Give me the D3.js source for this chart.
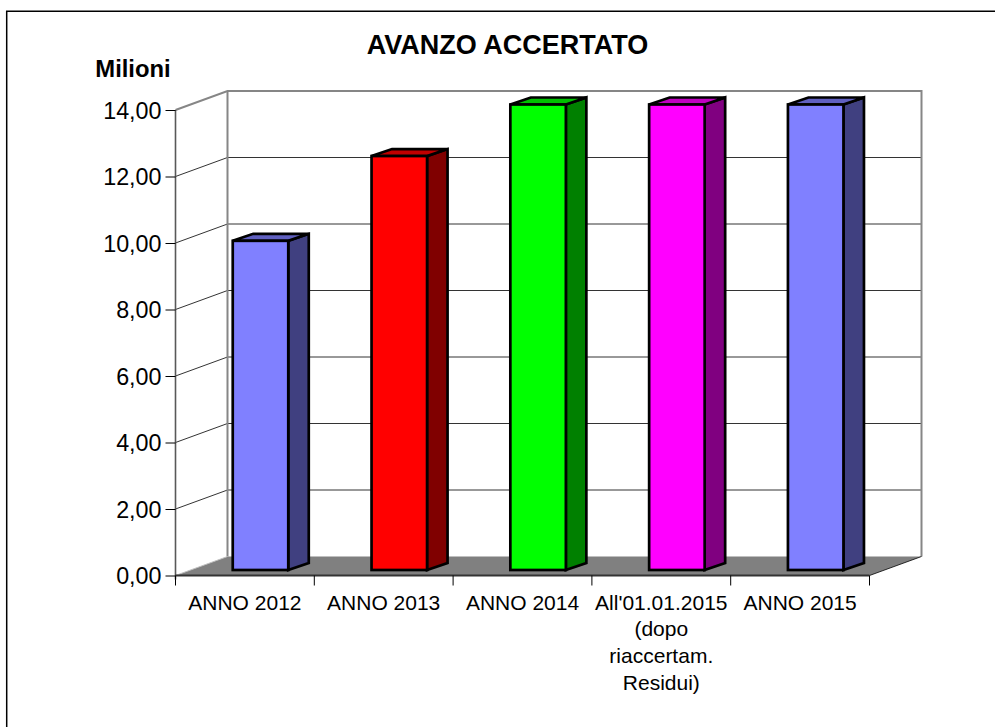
<!DOCTYPE html>
<html><head><meta charset="utf-8">
<script src="https://cdn.jsdelivr.net/npm/d3@7"></script>
<style>html,body{margin:0;padding:0;background:#fff}svg{display:block}text{font-family:"Liberation Sans",Arial,sans-serif;fill:#000}</style>
</head><body><div id="c"></div>
<script>
const categories = ["ANNO 2012","ANNO 2013","ANNO 2014","All'01.01.2015|(dopo|riaccertam.|Residui)","ANNO 2015"];
const values = [9.9,12.45,14,14,14];
const frontColors = ["#8080ff","#ff0000","#00ff00","#ff00ff","#8080ff"];
const sideColors = ["#404080","#800000","#008000","#800080","#404080"];
const topColors = ["#6060c0","#c00000","#00c000","#c000c0","#6060c0"];
const yTicks = [0,2,4,6,8,10,12,14];
const titleText = "AVANZO ACCERTATO";
const unitText = "Milioni";

const W=995,H=727;
const svg=d3.select("#c").append("svg").attr("width",W).attr("height",H);
svg.append("path").attr("d","M6.7,727V11.3H995").attr("fill","none").attr("stroke","#000").attr("stroke-width",1.5);

const x=d3.scaleBand().domain(categories).range([175.5,869.5]);
const y=d3.scaleLinear().domain([0,14]).range([575.5,110]);
const dx=52, dy=-19;           // wall depth
const bx=20.5, by=-7;          // bar depth
const ox=15.6, oy=-5.5;        // bar offset from front edge
const barW=x.bandwidth()*0.4;
const fmt=v=>d3.format(".2f")(v).replace(".",",");
const P=a=>a.map(p=>p.join(",")).join(" ");
const g=svg.append("g");
const [x0,x1]=x.range(), y0=y(0);

// floor
g.append("polygon").attr("points",P([[x0,y0],[x0+dx,y0+dy],[x1+dx,y0+dy],[x1,y0]])).attr("fill","#808080");

// gridlines (excluding top and bottom)
g.selectAll(".gl").data(yTicks.filter(t=>t>0&&t<14)).join("path").attr("class","gl")
 .attr("d",t=>`M${x0},${y(t)}L${x0+dx},${y(t)+dy}H${x1+dx}`).attr("fill","none").attr("stroke","#333").attr("stroke-width",1);

// walls
g.append("path").attr("d",`M${x0},${y(14)}L${x0+dx},${y(14)+dy}H${x1+dx}V${y0+dy}`).attr("fill","none").attr("stroke","#868686").attr("stroke-width",2);
g.append("path").attr("d",`M${x0+dx},${y(14)+dy}V${y0+dy}`).attr("fill","none").attr("stroke","#868686").attr("stroke-width",2);
g.append("path").attr("d",`M${x0},${y0}L${x0+dx},${y0+dy}`).attr("stroke","#c0c0c0").attr("stroke-width",1);
g.append("path").attr("d",`M${x1},${y0}L${x1+dx},${y0+dy}`).attr("stroke","#000").attr("stroke-width",.8);

// bars
const bars=g.selectAll(".bar").data(categories.map((c,i)=>({c,v:values[i],i}))).join("g").attr("class","bar")
 .attr("stroke","#000").attr("stroke-width",2.7).attr("stroke-linejoin","miter");
const L=d=>x(d.c)+(x.bandwidth()-barW)/2+ox, B=()=>y0+oy, T=d=>y(d.v)+oy;
bars.append("polygon").attr("points",d=>P([[L(d)+barW,B()],[L(d)+barW+bx,B()+by],[L(d)+barW+bx,T(d)+by],[L(d)+barW,T(d)]])).attr("fill",d=>sideColors[d.i]);
bars.append("polygon").attr("points",d=>P([[L(d),T(d)],[L(d)+bx,T(d)+by],[L(d)+barW+bx,T(d)+by],[L(d)+barW,T(d)]])).attr("fill",d=>topColors[d.i]);
bars.append("rect").attr("x",L).attr("y",T).attr("width",barW).attr("height",d=>B()-T(d)).attr("fill",d=>frontColors[d.i]);

// y axis
const yAxis=d3.axisLeft(y).tickValues(yTicks).tickFormat(fmt).tickSize(10).tickPadding(4);
const ya=svg.append("g").attr("transform",`translate(${x0},0)`).call(yAxis);
ya.select(".domain").attr("stroke","#595959").attr("stroke-width",1.6).attr("d",`M0,${y(14)}V${y0+4}`);
ya.selectAll(".tick line").attr("stroke","#000");
ya.selectAll("text").attr("font-size",23.3).attr("font-family",'"Liberation Sans",Arial,sans-serif').attr("dy","0.36em");

// x axis
const edges=[...categories.map(c=>x(c)),x1];
svg.append("path").attr("d",`M${x0},${y0}H${x1}`).attr("stroke","#333").attr("stroke-width",1.8);
svg.selectAll(".xt").data(edges).join("line").attr("class","xt").attr("x1",d=>d).attr("x2",d=>d).attr("y1",y0).attr("y2",y0+10).attr("stroke","#000");
svg.selectAll(".xl").data(categories).join("text").attr("class","xl")
 .attr("text-anchor","middle").attr("font-size",21)
 .each(function(c){const s=d3.select(this);c.split("|").forEach((t,i)=>s.append("tspan").attr("x",x(c)+x.bandwidth()/2).attr("y",y0+34+i*26.7).text(t));});

svg.append("text").attr("x",507.5).attr("y",53.5).attr("text-anchor","middle").attr("font-size",27).attr("font-weight","bold").text(titleText);
svg.append("text").attr("x",133).attr("y",76.5).attr("text-anchor","middle").attr("font-size",23.8).attr("font-weight","bold").text(unitText);
</script></body></html>
